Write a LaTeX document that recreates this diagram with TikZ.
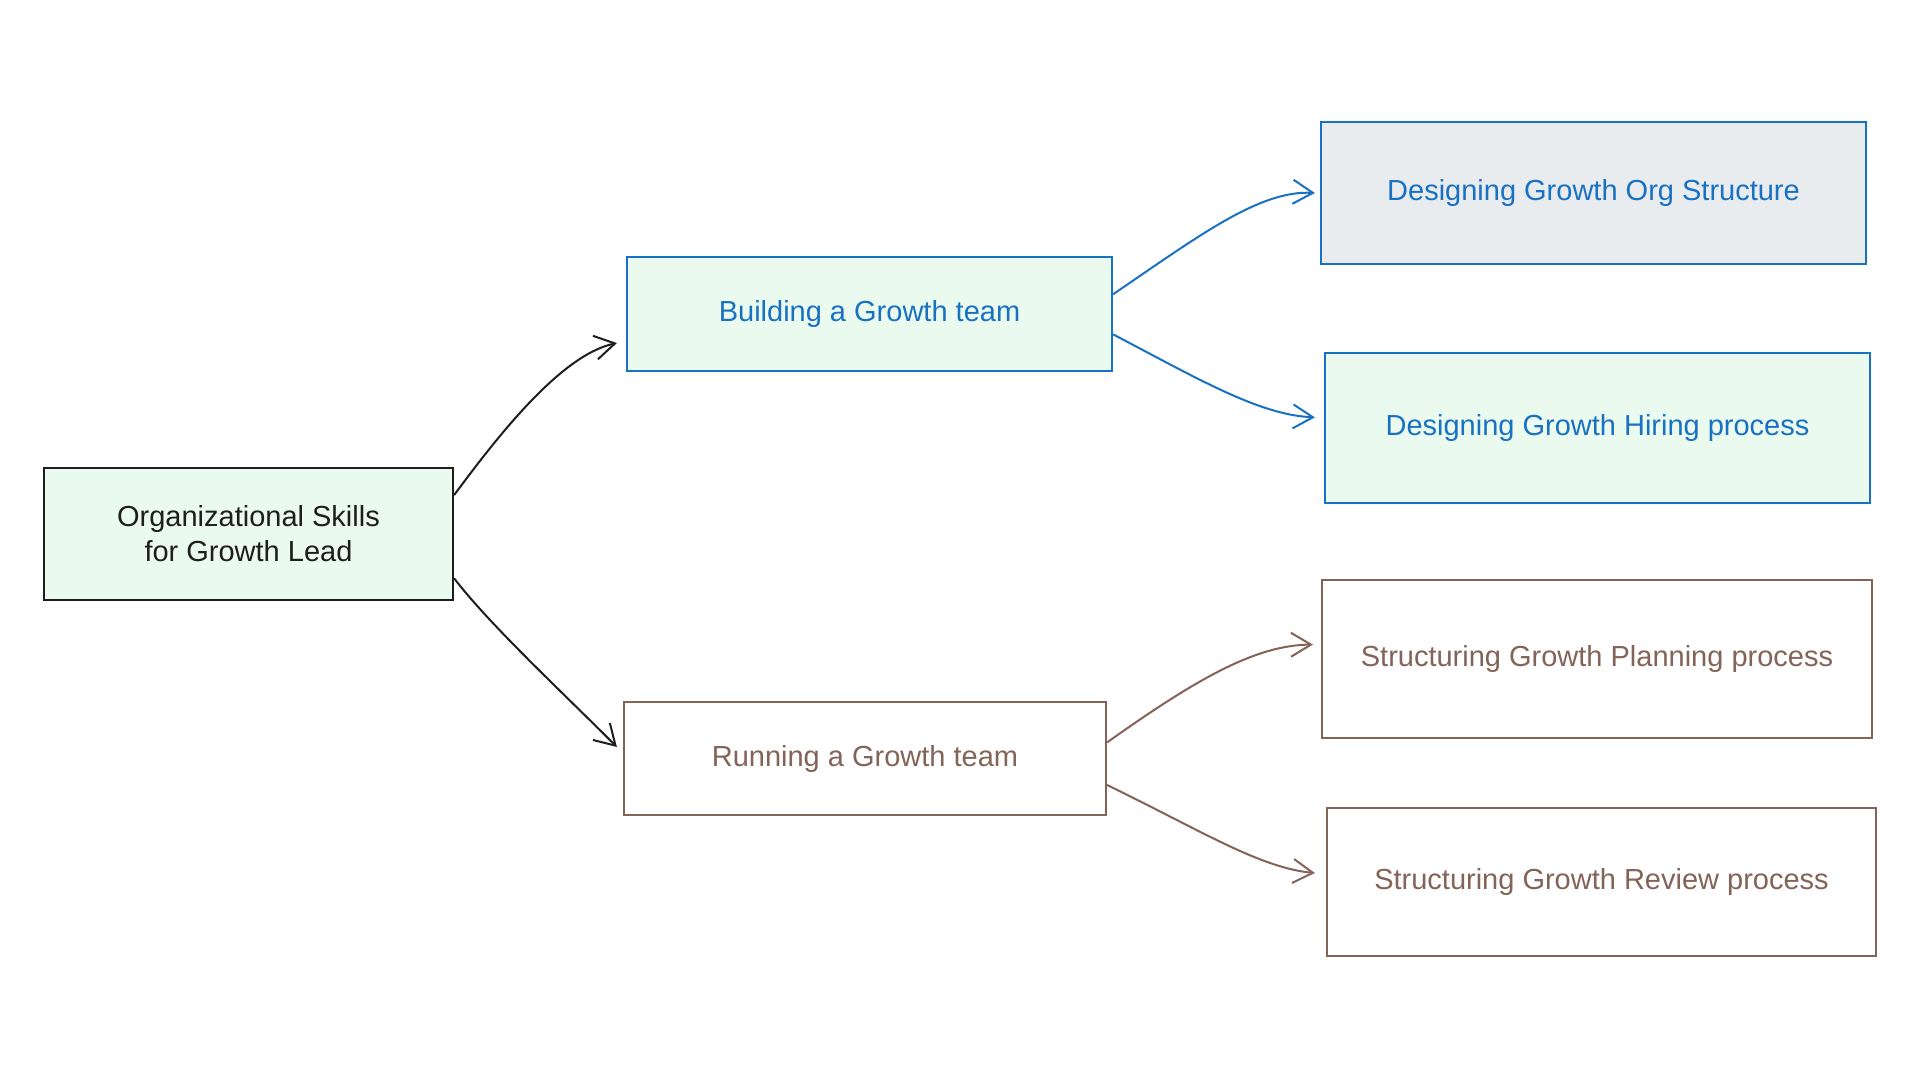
\documentclass[tikz,border=0pt]{standalone}
\usepackage{fontspec}
\setmainfont{Liberation Sans}
\usetikzlibrary{arrows.meta,calc}
\definecolor{cgreen}{HTML}{EBFAEE}
\definecolor{cgray}{HTML}{E9ECEF}
\definecolor{cblue}{HTML}{1971C2}
\definecolor{cbrown}{HTML}{846358}
\definecolor{cblack}{HTML}{1E1E1E}
\tikzset{
  box/.style={draw, line width=2.2pt, rectangle, inner sep=0pt, align=center, font=\fontsize{29}{35}\selectfont},
  rootbox/.style={box, draw=cblack, fill=cgreen, text=cblack},
  bluebox/.style={box, draw=cblue, text=cblue},
  brownbox/.style={box, draw=cbrown, fill=white, text=cbrown},
  conn/.style={line width=2pt, -{Straight Barb[length=20pt,width=24pt,line width=2pt]}},
}
\begin{document}
\begin{tikzpicture}[x=1pt,y=-1pt]
\path[fill=white,use as bounding box] (0,0) rectangle (1920,1080);
\node[rootbox, minimum width=409pt, minimum height=132pt] (root) at (248.5,534) {Organizational Skills\\for Growth Lead};
\node[bluebox, fill=cgreen, minimum width=485pt, minimum height=114pt] (building) at (869.5,314) {Building a Growth team};
\node[brownbox, minimum width=482pt, minimum height=113pt] (running) at (865,758.5) {Running a Growth team};
\node[bluebox, fill=cgray, minimum width=545pt, minimum height=142pt] (org) at (1593.5,193) {Designing Growth Org Structure};
\node[bluebox, fill=cgreen, minimum width=545pt, minimum height=150pt] (hiring) at (1597.5,428) {Designing Growth Hiring process};
\node[brownbox, minimum width=550pt, minimum height=158pt] (planning) at (1597,659) {Structuring Growth Planning process};
\node[brownbox, minimum width=549pt, minimum height=148pt] (review) at (1601.5,882) {Structuring Growth Review process};

\draw[conn, cblack] ($(root.north east)!0.21!(root.south east)$) .. controls (495,440) and (560,355) .. ([xshift=-9pt]$(building.north west)!0.75!(building.south west)$);
\draw[conn, cblack] ($(root.north east)!0.83!(root.south east)$) .. controls (490,625) and (560,690) .. ([xshift=-6pt]$(running.north west)!0.40!(running.south west)$);
\draw[conn, cblue] ($(building.north east)!0.33!(building.south east)$) .. controls (1200,235) and (1260,190) .. ([xshift=-5pt]org.west);
\draw[conn, cblue] ($(building.north east)!0.675!(building.south east)$) .. controls (1200,380) and (1260,415) .. ([xshift=-9pt]$(hiring.north west)!0.43!(hiring.south west)$);
\draw[conn, cbrown] ($(running.north east)!0.36!(running.south east)$) .. controls (1195,680) and (1255,645) .. ([xshift=-8pt]$(planning.north west)!0.41!(planning.south west)$);
\draw[conn, cbrown] ($(running.north east)!0.73!(running.south east)$) .. controls (1200,830) and (1260,868) .. ([xshift=-11pt]$(review.north west)!0.44!(review.south west)$);
\end{tikzpicture}
\end{document}
